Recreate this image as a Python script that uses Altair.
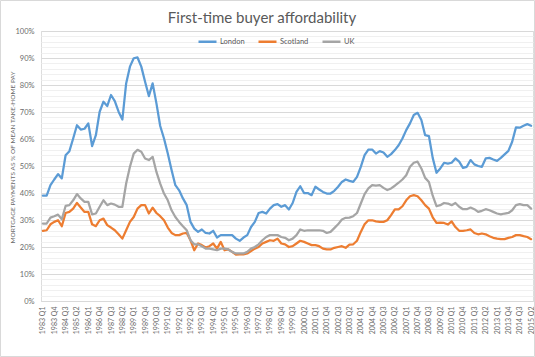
import altair as alt
import pandas as pd

quarters = [f"{y} Q{q}" for y in range(1983, 2016) for q in range(1, 5)][:130]
tick_labels = quarters[::3]
series_names = ["London", "Scotland", "UK"]
series_colors = ["#5B9BD5", "#ED7D31", "#A5A5A5"]

london = [39, 39, 42.9, 45, 47, 45.4, 54, 55.5, 60.2, 65.1,
          63.5, 63.8, 65.8, 57.4, 61.4, 70.1, 73.8, 72.2, 76.3, 74,
          70.1, 67.2, 80.6, 86.8, 89.9, 90.2, 86.8, 81.2, 75.9, 80.6,
          73.2, 64.8, 60.2, 54.6, 48.5, 42.9, 41, 38, 35.5, 29.3,
          26.8, 25.6, 26.5, 25.2, 25, 26, 23.5, 24.4, 24.4, 24.4,
          24.4, 23.1, 22.3, 23.5, 24.4, 27.4, 29.3, 32.6, 33, 32.4,
          34.2, 35.5, 35.9, 34.9, 35.5, 33.9, 36.3, 40.4, 42.5, 40,
          40, 39.2, 42.3, 41.3, 40.4, 39.8, 39.8, 40.8, 42.3, 44.1,
          45, 44.5, 44.1, 46, 49.7, 54, 56.1, 56.1, 54.6, 55.5,
          55, 53.4, 54.4, 55.9, 57.7, 60.2, 63.3, 65.8, 68.9, 69.7,
          67, 61.4, 61.1, 53, 47.5, 49.1, 51.2, 50.9, 51.2, 52.8,
          51.6, 49.3, 49.7, 52.2, 50.6, 50, 49.7, 52.8, 53, 52.4,
          51.9, 53, 54.3, 55.6, 59, 64.3, 64.2, 64.9, 65.5, 64.9]

scotland = [26, 26.2, 28.4, 29.3, 29.9, 27.7, 32.6, 33, 34.2, 36.3,
            34.6, 33, 33, 28.4, 27.7, 29.9, 30.5, 28.1, 27.2, 26.2,
            24.7, 23.1, 26.2, 29.3, 31.1, 34.2, 35.5, 35.5, 32.4, 34.6,
            32.6, 31.4, 29.9, 27.2, 25.2, 24.4, 24.4, 25, 25.2, 22.5,
            18.8, 21.3, 20.7, 19.8, 20.3, 21.3, 19.4, 21.9, 18.8, 19.1,
            18.2, 17.2, 17.3, 17.3, 17.6, 18.5, 19.4, 20, 21.3, 21.9,
            22.5, 22.3, 23.1, 21.3, 21, 20, 20.3, 21.3, 22.3, 21.9,
            21.3, 20.7, 20.7, 20.3, 19.4, 19.1, 19.1, 19.7, 20, 20.3,
            19.7, 20.9, 21, 22.3, 25.6, 28.4, 29.9, 29.9, 29.5, 29.3,
            29.3, 29.9, 31.8, 33.9, 33.9, 35.1, 37.3, 38.8, 39.2, 38.8,
            37.3, 35.5, 34.2, 31, 28.9, 29, 28.9, 28.3, 29.5, 27.4,
            26, 26, 26.2, 26.5, 25.2, 24.7, 25, 24.7, 24, 23.4,
            23.1, 22.9, 22.9, 23.4, 23.7, 24.4, 24.4, 24, 23.7, 22.9]

uk = [28.7, 28.7, 30.9, 31.4, 32, 30.3, 35.2, 35.5, 37.3, 39.6,
      38, 36.7, 36.7, 32.1, 32.4, 34.9, 37.3, 35.5, 36.1, 35.7,
      34.9, 34.9, 43.5, 49.7, 54.6, 56, 55.3, 52.8, 52.2, 53.4,
      47.8, 43.5, 39.8, 37.3, 33.6, 31.1, 29.3, 27.7, 26.2, 22.5,
      21, 21, 20.3, 19.4, 19.4, 19.1, 18.8, 19.4, 19.4, 19.1,
      18.2, 17.6, 17.6, 17.6, 18.2, 19.4, 20, 21, 22.5, 23.7,
      24.4, 24.4, 24.4, 23.7, 23.4, 22.5, 23.1, 24.4, 26.5, 26,
      26.2, 26.2, 26.2, 26.2, 26, 25.2, 25.6, 27, 28.4, 30.2,
      30.8, 30.9, 31.4, 32.6, 36.1, 39.6, 41.7, 42.9, 42.7, 42.9,
      41.9, 41.1, 41.7, 42.7, 43.8, 45, 46.6, 49.7, 51.2, 51.6,
      49.1, 45.6, 44.1, 39, 35.1, 35.5, 36.3, 36.1, 35.5, 36.3,
      34.9, 34, 34, 34.6, 34, 33, 33.4, 34, 33.6, 33,
      32.4, 32.1, 32.4, 32.6, 33.6, 35.5, 35.9, 35.5, 35.5, 34.2]

rows = []
for name, vals in zip(series_names, [london, scotland, uk]):
    for q, v in zip(quarters, vals):
        rows.append({"quarter": q, "series": name, "value": v})
df = pd.DataFrame(rows)

FONT = "Lato"
GRAY = "#595959"

lines = alt.Chart(df).mark_line(strokeWidth=2.25, strokeJoin="round", strokeCap="round").encode(
    x=alt.X("quarter:O", sort=quarters,
            scale=alt.Scale(type="point", padding=0.5),
            axis=alt.Axis(values=tick_labels, labelAngle=270, title=None, ticks=False,
                          domainColor="#d9d9d9", labelFont=FONT, labelFontSize=7,
                          labelColor="#6b6b6b", labelPadding=5, grid=False,
                          labelAlign="right", labelBaseline="middle")),
    y=alt.Y("value:Q", scale=alt.Scale(domain=[0, 100], nice=False),
            axis=alt.Axis(values=list(range(0, 101, 2)),
                          labelExpr="datum.value % 10 === 0 ? datum.value + '%' : ''",
                          gridColor=alt.condition("datum.value % 10 === 0",
                                                  alt.value("#d9d9d9"), alt.value("#f0f0f0")),
                          ticks=False, domain=False, labelFont=FONT, labelFontSize=7.5,
                          labelColor="#6b6b6b", labelPadding=7,
                          title="MORTGAGE PAYMENTS AS % OF MEAN TAKE-HOME PAY",
                          titleFont=FONT, titleFontSize=6.5, titleFontWeight="normal",
                          titleColor="#6b6b6b", titleAngle=270, titleX=-29, titleY=126,
                          titleAlign="center", titleBaseline="middle")),
    color=alt.Color("series:N",
                    scale=alt.Scale(domain=series_names, range=series_colors),
                    legend=alt.Legend(title=None, orient="none", direction="horizontal",
                                      legendX=156, legendY=0, symbolType="stroke",
                                      symbolStrokeWidth=2.5, symbolSize=324,
                                      labelFont=FONT, labelFontSize=7.5, labelColor=GRAY,
                                      columnPadding=8, labelOffset=2)),
)

frame = alt.Chart(pd.DataFrame({"a": [0]})).mark_rect(fillOpacity=0, stroke="#d9d9d9", strokeWidth=1).encode(
    x=alt.value(-40.5), x2=alt.value(493.5), y=alt.value(-30.5), y2=alt.value(325.5)
)

chart = alt.layer(frame, lines).properties(
    width=492, height=270,
    autosize=alt.AutoSizeParams(type="none"),
    padding={"left": 41, "top": 31, "right": 2, "bottom": 56},
    title=alt.TitleParams("First-time buyer affordability", font=FONT, fontSize=15,
                          fontWeight="normal", color=GRAY, anchor="middle", dx=-25,
                          baseline="alphabetic", dy=42),
).configure_view(strokeWidth=0).configure(background="white")

chart.save("out.html", embed_options={"renderer": "svg", "actions": False})
